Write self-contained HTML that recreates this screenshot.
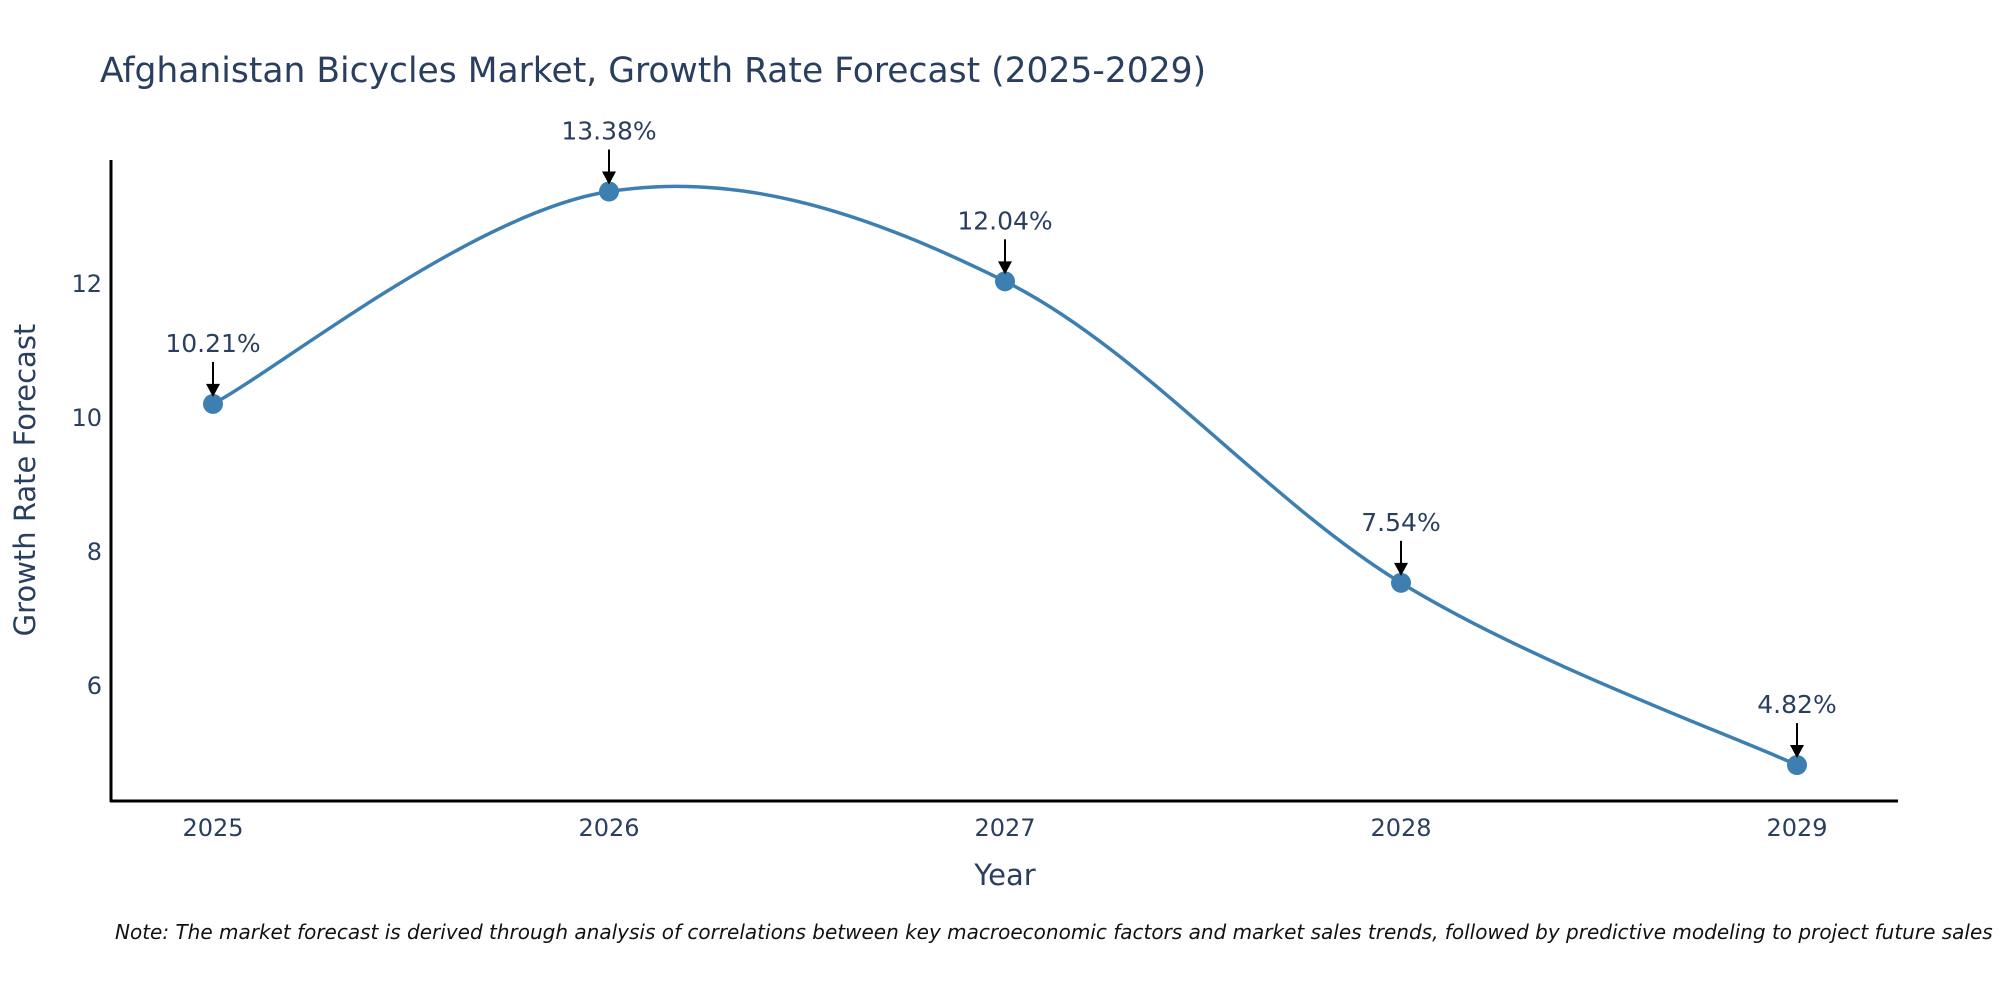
<!DOCTYPE html>
<html><head><meta charset="utf-8"><style>
body{margin:0;background:#fff;width:2000px;height:1000px;overflow:hidden;font-family:"Liberation Sans","DejaVu Sans",sans-serif}
</style></head><body>
<svg id="chart" width="2000" height="1000" xmlns="http://www.w3.org/2000/svg" style="font-family:'DejaVu Sans','Liberation Sans',sans-serif">
<text x="100" y="82" font-size="34.5" fill="#2a3f5f">Afghanistan Bicycles Market, Growth Rate Forecast (2025-2029)</text>
<g id="yticks"></g><g id="xticks"></g>
<line x1="111" y1="160" x2="111" y2="802" stroke="#000" stroke-width="3"/>
<line x1="110" y1="801" x2="1898" y2="801" stroke="#000" stroke-width="3"/>
<path id="line" fill="none" stroke="#3d7fb0" stroke-width="3.5"/>
<g id="marks"></g>
<text transform="translate(35,480) rotate(-90)" text-anchor="middle" font-size="29" fill="#2a3f5f">Growth Rate Forecast</text>
<text x="1005" y="885" text-anchor="middle" font-size="29" fill="#2a3f5f">Year</text>
<text x="115" y="939" font-size="20" font-style="italic" fill="#111">Note: The market forecast is derived through analysis of correlations between key macroeconomic factors and market sales trends, followed by predictive modeling to project future sales</text>
</svg>
<script>
const years=[2025,2026,2027,2028,2029];
const values=[10.21,13.38,12.04,7.54,4.82];
const yTicks=[6,8,10,12];
const NS="http://www.w3.org/2000/svg";
function xs(i){return 213+i*396;}
function ys(v){return 418-(v-10)*67;}
function mk(t,a,p){const e=document.createElementNS(NS,t);for(const k in a)e.setAttribute(k,a[k]);(p||document.getElementById('chart')).appendChild(e);return e;}
const yt=document.getElementById('yticks');
yTicks.forEach(v=>{const t=mk('text',{x:102,y:ys(v)+8,'text-anchor':'end','font-size':24,fill:'#2a3f5f'},yt);


t.textContent=v;});
const xt=document.getElementById('xticks');
years.forEach((y,i)=>{const t=mk('text',{x:xs(i),y:836,'text-anchor':'middle','font-size':24,fill:'#2a3f5f'},xt);


t.textContent=y;});
const P=values.map((v,i)=>[xs(i),ys(v)]);
let d='M'+P[0][0]+','+P[0][1];
const k=0.17;
for(let i=0;i<P.length-1;i++){
 const p0=P[Math.max(0,i-1)],p1=P[i],p2=P[i+1],p3=P[Math.min(P.length-1,i+2)];
 const c1=[p1[0]+(p2[0]-p0[0])*k,p1[1]+(p2[1]-p0[1])*k];
 const c2=[p2[0]-(p3[0]-p1[0])*k,p2[1]-(p3[1]-p1[1])*k];
 d+=' C'+c1+' '+c2+' '+p2;
}
document.getElementById('line').setAttribute('d',d);
const g=document.getElementById('marks');
values.forEach((v,i)=>{
 const x=xs(i),y=ys(v);
 const c=mk('circle',{cx:x,cy:y,r:10,fill:'#3d7fb0'},g);
 
 
 const l=mk('line',{x1:x,y1:y-42,x2:x,y2:y-18,stroke:'#000','stroke-width':2},g);
 
 
 const a=mk('polygon',{points:(x-7)+','+(y-20)+' '+(x+7)+','+(y-20)+' '+x+','+(y-7),fill:'#000'},g);
 
 
 const t=mk('text',{x:x,y:y-52,'text-anchor':'middle','font-size':25,fill:'#2a3f5f'},g);
 
 
 t.textContent=v.toFixed(2)+'%';
});
</script>
</body></html>
